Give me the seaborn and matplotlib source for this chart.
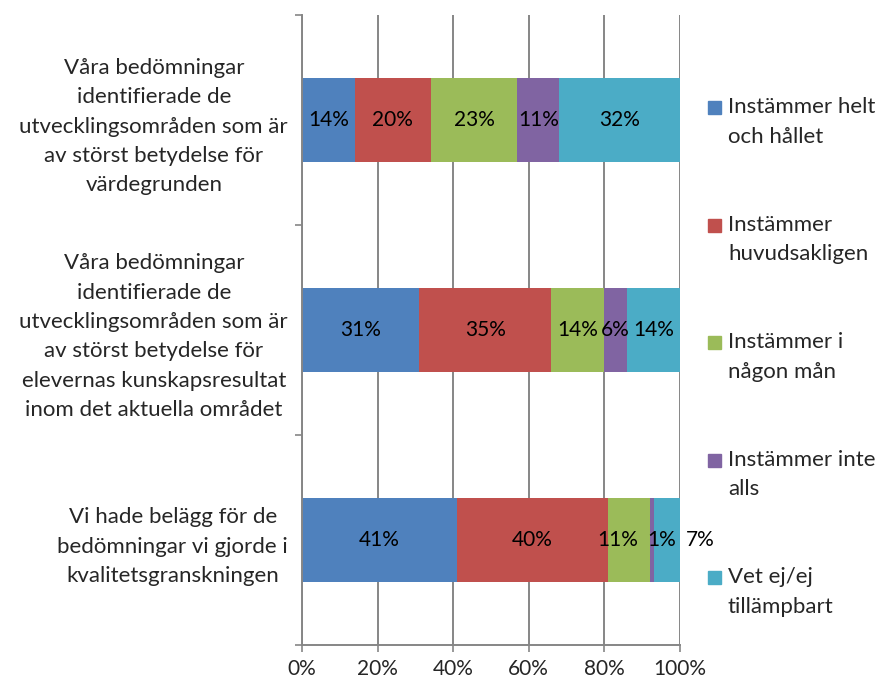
import seaborn as sns
import pandas as pd
import matplotlib.pyplot as plt
import matplotlib.ticker as ticker
from matplotlib.patches import Rectangle

# survey statements (top to bottom)
questions = [
    "Våra bedömningar\nidentifierade de\nutvecklingsområden som är\nav störst betydelse för\nvärdegrunden",
    "Våra bedömningar\nidentifierade de\nutvecklingsområden som är\nav störst betydelse för\nelevernas kunskapsresultat\ninom det aktuella området",
    "Vi hade belägg för de\nbedömningar vi gjorde i\nkvalitetsgranskningen",
]
answers = [
    "Instämmer helt\noch hållet",
    "Instämmer\nhuvudsakligen",
    "Instämmer i\nnågon mån",
    "Instämmer inte\nalls",
    "Vet ej/ej\ntillämpbart",
]
helt = [14, 31, 41]
huvudsakligen = [20, 35, 40]
nagon_man = [23, 14, 11]
inte_alls = [11, 6, 1]
vet_ej = [32, 14, 7]
colors = ["#4F81BD", "#C0504D", "#9BBB59", "#8064A2", "#4BACC6"]

FONT = ["Lato", "DejaVu Sans"]
FS = 15      # bar labels, x ticks
FS_TXT = 16  # category labels, legend
LS = 1.58
GRID = "#868686"

sns.set_style("white")
plt.rcParams["font.family"] = FONT

series = [helt, huvudsakligen, nagon_man, inte_alls, vet_ej]
df = pd.DataFrame({"question": questions})
running = [0, 0, 0]
for name, vals in zip(answers, series):
    running = [r + v for r, v in zip(running, vals)]
    df[name] = running

fig = plt.figure(figsize=(8.81, 6.84), dpi=100)
ax = fig.add_axes([302 / 881, 39 / 684, 378 / 881, 630 / 684])

# draw cumulative totals from the largest down so the pieces stack
for name, col in reversed(list(zip(answers, colors))):
    sns.barplot(data=df, x=name, y="question", orient="h", color=col,
                width=0.4, saturation=1, ax=ax, edgecolor="none")

# segment labels (Excel shifted the crowded ones on the last bar)
nudge = {(2, 2): -3.0, (2, 3): 2.7, (2, 4): 8.8}
for i in range(len(questions)):
    left = 0
    for j, vals in enumerate(series):
        v = vals[i]
        xc = left + v / 2 + nudge.get((i, j), 0)
        ax.text(xc, i, f"{v}%", ha="center", va="center", fontsize=FS,
                color="black", zorder=5)
        left += v

ax.set_xlim(0, 100)
ax.set_ylim(2.5, -0.5)
ax.set_xlabel("")
ax.set_ylabel("")
ax.xaxis.set_major_locator(ticker.MultipleLocator(20))
ax.xaxis.set_major_formatter(ticker.FuncFormatter(lambda v, p: f"{v:.0f}%"))
ax.grid(axis="x", color=GRID, linewidth=1.4)
ax.set_axisbelow(True)

# category boundaries get the tick marks, labels sit between them
ax.yaxis.set_major_locator(ticker.FixedLocator([-0.5, 0.5, 1.5, 2.5]))
ax.yaxis.set_major_formatter(ticker.NullFormatter())
ax.yaxis.set_minor_locator(ticker.FixedLocator([0, 1, 2]))
ax.yaxis.set_minor_formatter(ticker.FixedFormatter(questions))
ax.tick_params(axis="y", which="major", length=5, width=1.2, color=GRID, left=True)
ax.tick_params(axis="y", which="minor", length=0, pad=10, labelsize=FS_TXT)
ax.tick_params(axis="x", length=5, width=1.2, color=GRID, bottom=True,
               labelsize=FS, pad=5)
for lab in ax.get_yticklabels(minor=True):
    lab.set_multialignment("center")
    lab.set_linespacing(LS)

sns.despine(ax=ax, top=True, right=True)
for s in ("left", "bottom"):
    ax.spines[s].set_color(GRID)
    ax.spines[s].set_linewidth(1.4)

# legend on the right
for k, (name, col) in enumerate(zip(answers, colors)):
    ytop = 101 + k * 117.5
    fig.add_artist(Rectangle((708 / 881, 1 - (ytop + 13) / 684), 13 / 881, 13 / 684,
                             transform=fig.transFigure, color=col))
    fig.text(728 / 881, 1 - (ytop + 21) / 684, name, ha="left", va="center",
             fontsize=FS_TXT, linespacing=LS)

fig.savefig("out.png", dpi=100)
